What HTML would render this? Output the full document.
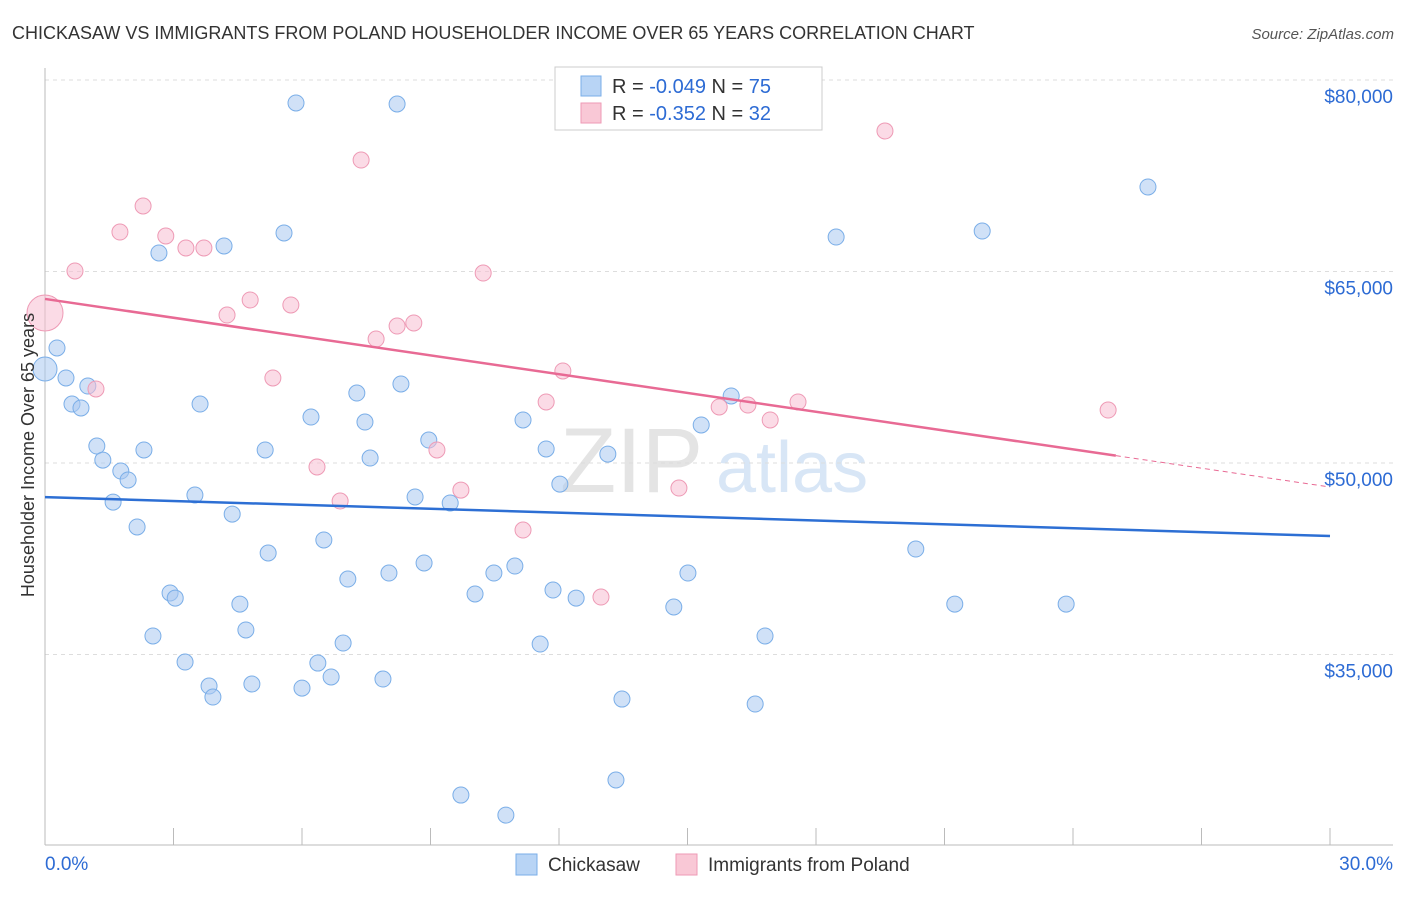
<!DOCTYPE html>
<html><head><meta charset="utf-8"><style>
body{margin:0;background:#fff;font-family:"Liberation Sans",sans-serif;}
svg text{font-family:"Liberation Sans",sans-serif;}
</style></head><body>
<svg id="chart" width="1406" height="892">
<text x="12" y="39" font-size="18" fill="#333">CHICKASAW VS IMMIGRANTS FROM POLAND HOUSEHOLDER INCOME OVER 65 YEARS CORRELATION CHART</text>
<text x="1394" y="39" font-size="15" fill="#555" text-anchor="end" font-style="italic">Source: ZipAtlas.com</text>
<text x="560" y="492" font-size="92" fill="#e4e4e4" font-family="Liberation Serif,serif">ZIP</text>
<text x="716" y="492" font-size="72" fill="#d8e6f6">atlas</text>
<g id="grid"></g><g id="axes"></g><g id="pts"></g><g id="trend"></g>
<text transform="translate(34,455) rotate(-90)" font-size="18" fill="#333" text-anchor="middle">Householder Income Over 65 years</text>
<g>
<rect x="555" y="67" width="267" height="63" fill="#fff" stroke="#ccc"/>
<rect x="581" y="76" width="20" height="20" fill="#b8d4f5" stroke="#7aaee8"/>
<rect x="581" y="103" width="20" height="20" fill="#f9c8d6" stroke="#ee9ab5"/>
<text x="612" y="93" font-size="20" fill="#333">R = <tspan fill="#2d6bd4">-0.049</tspan>   N = <tspan fill="#2d6bd4">75</tspan></text>
<text x="612" y="120" font-size="20" fill="#333">R =  <tspan fill="#2d6bd4">-0.352</tspan>   N = <tspan fill="#2d6bd4">32</tspan></text>
</g>
<g>
<rect x="516" y="854" width="21" height="21" fill="#b8d4f5" stroke="#7aaee8"/>
<text x="548" y="871" font-size="19" fill="#333">Chickasaw</text>
<rect x="676" y="854" width="21" height="21" fill="#f9c8d6" stroke="#ee9ab5"/>
<text x="708" y="871" font-size="19" fill="#333">Immigrants from Poland</text>
</g>
</svg>
<script>
const blueX=[5.86,8.22,25.75,21.88,18.47,5.58,4.18,2.66,0.28,0.0,0.49,1.00,0.63,0.84,3.62,7.28,8.31,16.02,6.21,7.47,11.16,15.32,1.21,2.31,5.14,8.96,11.70,1.35,7.59,13.14,1.77,1.94,12.02,3.50,8.64,9.46,1.59,4.37,2.15,6.51,5.21,20.33,8.85,7.07,8.03,10.48,10.97,15.01,2.92,3.04,10.04,11.86,12.40,4.55,14.68,21.24,23.84,4.69,2.52,6.96,11.56,16.81,3.27,6.37,6.68,7.89,3.83,4.83,6.00,3.92,13.47,16.58,13.33,9.71,10.76];
const blueY=[78200,78120,71620,68170,67700,68020,67000,66450,59010,57360,56660,56030,54620,54310,54620,55480,56190,55250,53600,53210,53370,52980,51330,51020,51020,51800,51100,50230,50390,50700,49370,48670,48350,47490,47340,46870,46940,46000,44990,43970,42950,43260,42170,40910,41380,41380,41930,41380,39820,39420,39740,40050,39420,38950,38720,38950,38950,36920,36450,35900,35820,36450,34410,34330,33240,33080,32530,32690,32370,31670,31510,31120,25170,23990,22420];
const pinkX=[0,0.70,2.29,1.75,2.82,3.29,3.71,7.38,19.61,10.23,4.79,5.74,4.25,8.22,8.61,7.73,1.19,5.32,12.09,11.70,15.74,16.41,17.58,16.93,24.82,6.35,9.15,9.71,6.89,14.80,11.16,12.98];
const pinkY=[61750,65040,70130,68090,67780,66840,66840,73730,76010,64880,62770,62380,61590,60730,60970,59710,55800,56660,57210,54780,54390,54540,54780,53370,54150,49690,51020,47880,47020,48040,44750,39500];
const yTicks=[35000,50000,65000,80000];
const yTickLabels=["$35,000","$50,000","$65,000","$80,000"];
const xTicks=[0,3,6,9,12,15,18,21,24,27,30];
const blueTrend=[47330,44280];
const pinkTrend=[62850,48120];
const xs=v=>45+v/30*1285, ys=v=>80+(80000-v)/15000*191.5;
const NS="http://www.w3.org/2000/svg";
function mk(p,t,a){const e=document.createElementNS(NS,t);for(const k in a)e.setAttribute(k,a[k]);document.getElementById(p).appendChild(e);return e;}
yTicks.forEach((v,i)=>{
 const l=mk('grid','line',{x1:45,x2:1393,y1:ys(v),y2:ys(v),stroke:'#ddd','stroke-dasharray':'4,4'});
 
 
 const t=mk('axes','text',{x:1393,y:ys(v)+23,'font-size':19,fill:'#2d6bd4','text-anchor':'end'});t.textContent=yTickLabels[i];
 
 
});
mk('axes','line',{x1:45,x2:1393,y1:845,y2:845,stroke:'#bbb'});
mk('axes','line',{x1:45,x2:45,y1:68,y2:845,stroke:'#bbb'});
xTicks.forEach(v=>{const l=mk('axes','line',{x1:xs(v),x2:xs(v),y1:828,y2:845,stroke:'#bbb'});
 
 });
let t0=mk('axes','text',{x:45,y:870,'font-size':19,fill:'#2d6bd4'});t0.textContent=xTicks[0].toFixed(1)+'%';


let t1=mk('axes','text',{x:1393,y:870,'font-size':19,fill:'#2d6bd4','text-anchor':'end'});t1.textContent=xTicks[xTicks.length-1].toFixed(1)+'%';


blueX.forEach((x,i)=>{const c=mk('pts','circle',{cx:xs(x),cy:ys(blueY[i]),r:i==9?12:8,fill:'rgba(170,200,240,0.55)',stroke:'#7aaee8','stroke-width':1});
 
 });
pinkX.forEach((x,i)=>{const c=mk('pts','circle',{cx:xs(x),cy:ys(pinkY[i]),r:i==0?18:8,fill:'rgba(248,190,210,0.55)',stroke:'#ee9ab5','stroke-width':1});
 
 });
const bl=mk('trend','line',{x1:xs(0),y1:ys(blueTrend[0]),x2:xs(30),y2:ys(blueTrend[1]),stroke:'#2d6fd4','stroke-width':2.5});


const pAt=x=>pinkTrend[0]+(pinkTrend[1]-pinkTrend[0])*x/30;
const pl=mk('trend','line',{x1:xs(0),y1:ys(pAt(0)),x2:xs(25),y2:ys(pAt(25)),stroke:'#e86a94','stroke-width':2.5});


const pd=mk('trend','line',{x1:xs(25),y1:ys(pAt(25)),x2:xs(30),y2:ys(pAt(30)),stroke:'#e86a94','stroke-width':1,'stroke-dasharray':'5,4'});


</script>
</body></html>
